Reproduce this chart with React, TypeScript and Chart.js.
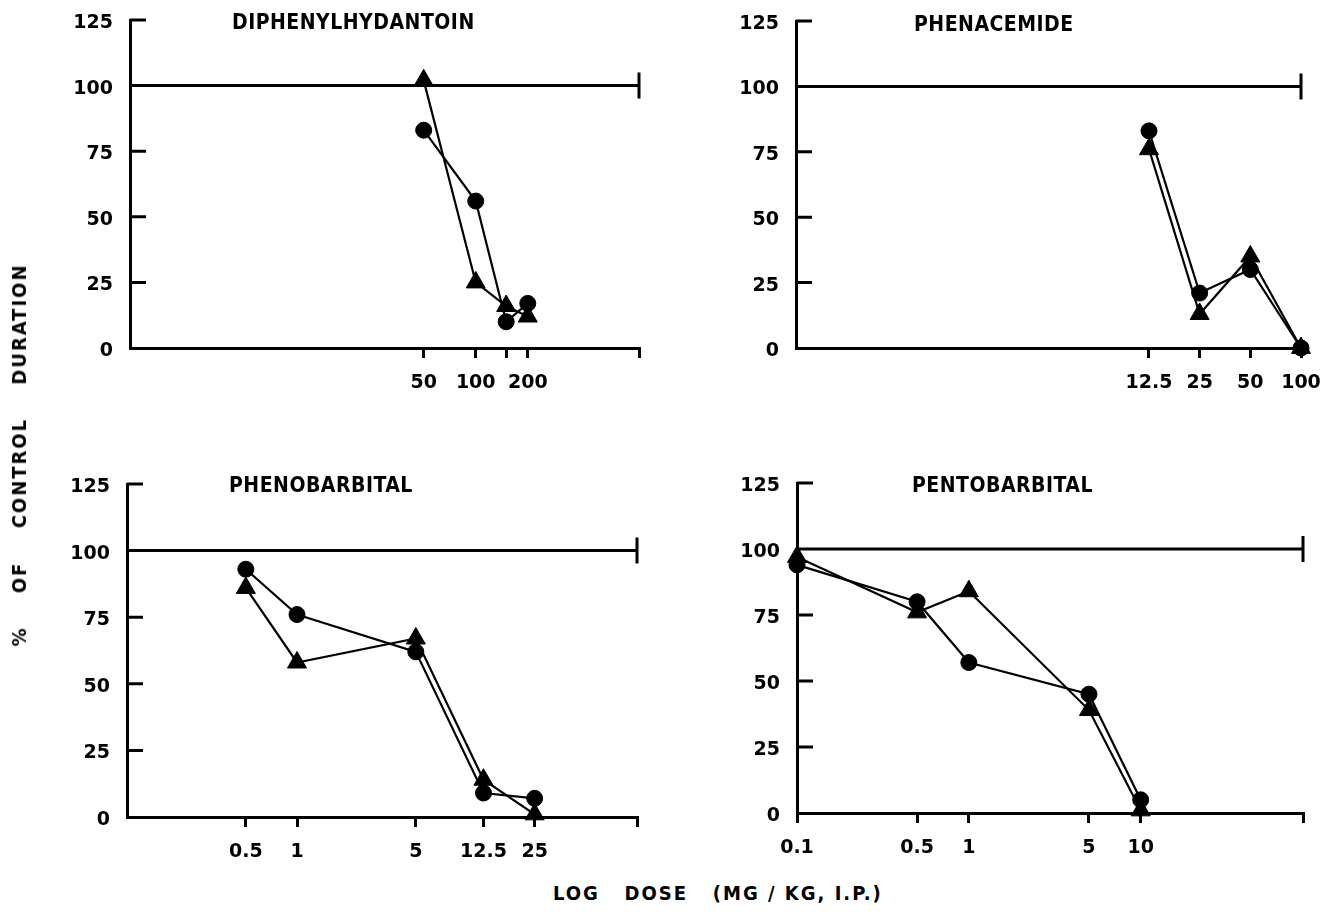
import React, { useEffect, useRef } from 'react';
import { Chart, registerables } from 'chart.js';

Chart.register(...registerables);

// ---------- data ----------
const CONTROL_LEVEL = 100;
const Y_INNER_TICKS = [25, 50, 75, 125];

const DPH_DOSES = [50, 100, 150, 200];
const DPH_TICK_LABELS = ['50', '100', '', '200'];
const DPH_CIRCLES = [83, 56, 10, 17];
const DPH_TRIANGLES = [102, 25, 16, 12];

const PHM_DOSES = [12.5, 25, 50, 100];
const PHM_TICK_LABELS = ['12.5', '25', '50', '100'];
const PHM_CIRCLES = [83, 21, 30, 0];
const PHM_TRIANGLES = [76, 13, 35, 0];

const PHB_DOSES = [0.5, 1, 5, 12.5, 25];
const PHB_TICK_LABELS = ['0.5', '1', '5', '12.5', '25'];
const PHB_CIRCLES = [93, 76, 62, 9, 7];
const PHB_TRIANGLES = [86, 58, 67, 14, 1];

const PTB_DOSES = [0.1, 0.5, 1, 5, 10];
const PTB_TICK_LABELS = ['0.1', '0.5', '1', '5', '10'];
const PTB_CIRCLES = [94, 80, 57, 45, 5];
const PTB_TRIANGLES = [97, 76, 84, 39, 1];

// ---------- layout ----------
const LEFT_W = 110;
const TOP_H = 48;
const RIGHT_W = 48;
const BOTTOM_H = 60;
const FONT = "'DejaVu Sans', sans-serif";
const FONT_COND = "'DejaVu Sans Condensed', 'DejaVu Sans', sans-serif";

type PanelDef = {
  title: string;
  doses: number[];
  tickLabels: string[];
  circles: number[];
  triangles: number[];
  xMin: number;
  xMax: number;
  axisX: number;
  topY: number;
  bottomY: number;
  rightX: number;
  titleDx: number;
  titleDy: number;
};

const PANELS: PanelDef[] = [
  {
    title: 'DIPHENYLHYDANTOIN', doses: DPH_DOSES, tickLabels: DPH_TICK_LABELS,
    circles: DPH_CIRCLES, triangles: DPH_TRIANGLES, xMin: 1, xMax: 880,
    axisX: 130, topY: 20, bottomY: 348, rightX: 639, titleDx: 102, titleDy: 4,
  },
  {
    title: 'PHENACEMIDE', doses: PHM_DOSES, tickLabels: PHM_TICK_LABELS,
    circles: PHM_CIRCLES, triangles: PHM_TRIANGLES, xMin: 0.1, xMax: 100,
    axisX: 796, topY: 21, bottomY: 348, rightX: 1301, titleDx: 118, titleDy: 5,
  },
  {
    title: 'PHENOBARBITAL', doses: PHB_DOSES, tickLabels: PHB_TICK_LABELS,
    circles: PHB_CIRCLES, triangles: PHB_TRIANGLES, xMin: 0.1, xMax: 100,
    axisX: 127, topY: 484, bottomY: 817, rightX: 637, titleDx: 102, titleDy: 3,
  },
  {
    title: 'PENTOBARBITAL', doses: PTB_DOSES, tickLabels: PTB_TICK_LABELS,
    circles: PTB_CIRCLES, triangles: PTB_TRIANGLES, xMin: 0.1, xMax: 88,
    axisX: 797, topY: 483, bottomY: 813, rightX: 1303, titleDx: 115, titleDy: 4,
  },
];

function Panel({ p }: { p: PanelDef }) {
  const ref = useRef<HTMLCanvasElement>(null);
  const W = p.rightX - p.axisX + LEFT_W + RIGHT_W;
  const H = p.bottomY - p.topY + TOP_H + BOTTOM_H;

  useEffect(() => {
    if (!ref.current) return;
    const tickValues = p.doses.includes(p.xMax) ? [...p.doses] : [...p.doses, p.xMax];

    const decor = {
      id: 'decor',
      afterDraw(chart: any) {
        const ctx = chart.ctx;
        const area = chart.chartArea;
        const ys = chart.scales.y;
        const xs = chart.scales.x;
        ctx.save();
        ctx.strokeStyle = '#000';
        ctx.lineWidth = 3;
        ctx.lineCap = 'butt';
        ctx.beginPath();
        for (const v of Y_INNER_TICKS) {
          const y = ys.getPixelForValue(v);
          ctx.moveTo(area.left, y);
          ctx.lineTo(area.left + 16, y);
        }
        const xr = xs.getPixelForValue(p.xMax);
        const y100 = ys.getPixelForValue(CONTROL_LEVEL);
        ctx.moveTo(xr, y100 - 13);
        ctx.lineTo(xr, y100 + 13);
        ctx.stroke();

        ctx.fillStyle = '#000';
        ctx.font = `bold 21px ${FONT_COND}`;
        ctx.textBaseline = 'middle';
        ctx.textAlign = 'left';
        try { (ctx as any).letterSpacing = '0.5px'; } catch (e) {}
        ctx.fillText(p.title, area.left + p.titleDx, area.top + p.titleDy);
        ctx.restore();
      },
    };

    const chart = new Chart(ref.current, {
      type: 'line',
      data: {
        datasets: [
          {
            label: 'control',
            data: [{ x: p.xMin, y: CONTROL_LEVEL }, { x: p.xMax, y: CONTROL_LEVEL }],
            borderColor: '#000',
            borderWidth: 3,
            pointRadius: 0,
            clip: false as any,
          },
          {
            label: 'circles',
            data: p.doses.map((d, i) => ({ x: d, y: p.circles[i] })),
            borderColor: '#000',
            backgroundColor: '#000',
            borderWidth: 2.2,
            pointStyle: 'circle',
            pointRadius: 8,
            pointBorderWidth: 1,
            clip: false as any,
          },
          {
            label: 'triangles',
            data: p.doses.map((d, i) => ({ x: d, y: p.triangles[i] })),
            borderColor: '#000',
            backgroundColor: '#000',
            borderWidth: 2.2,
            pointStyle: 'triangle',
            pointRadius: 11,
            pointBorderWidth: 1,
            clip: false as any,
          },
        ],
      },
      options: {
        responsive: false,
        animation: false,
        devicePixelRatio: 1,
        layout: { padding: { left: 0, top: TOP_H, right: RIGHT_W, bottom: 0 } },
        plugins: { legend: { display: false }, tooltip: { enabled: false } },
        elements: { line: { tension: 0 } },
        scales: {
          x: {
            type: 'logarithmic',
            min: p.xMin,
            max: p.xMax,
            afterBuildTicks: (scale: any) => {
              scale.ticks = tickValues.map((v) => ({ value: v }));
            },
            afterFit: (scale: any) => { scale.height = BOTTOM_H; },
            grid: {
              display: true,
              drawOnChartArea: false,
              drawTicks: true,
              tickLength: 10,
              color: '#000',
              lineWidth: 3,
            },
            border: { display: true, color: '#000', width: 3 },
            ticks: {
              autoSkip: false,
              maxRotation: 0,
              minRotation: 0,
              padding: 14,
              color: '#000',
              font: { size: 19, family: FONT, weight: 'bold' },
              callback: (_v: any, i: number) => p.tickLabels[i] ?? '',
            },
          },
          y: {
            type: 'linear',
            min: 0,
            max: 125,
            afterFit: (scale: any) => { scale.width = LEFT_W; },
            grid: { display: false, drawTicks: false },
            border: { display: true, color: '#000', width: 3 },
            ticks: {
              stepSize: 25,
              padding: 17,
              labelOffset: 3,
              color: '#000',
              font: { size: 19, family: FONT, weight: 'bold' },
            },
          },
        },
      },
      plugins: [decor],
    } as any);
    return () => chart.destroy();
  }, []);

  return (
    <canvas
      ref={ref}
      width={W}
      height={H}
      style={{
        position: 'absolute',
        left: p.axisX - LEFT_W,
        top: p.topY - TOP_H,
        width: W,
        height: H,
      }}
    />
  );
}

export default function App() {
  return (
    <div
      style={{
        position: 'absolute',
        left: 0,
        top: 0,
        width: 1332,
        height: 916,
        background: '#fff',
        overflow: 'hidden',
        fontFamily: FONT_COND,
        fontWeight: 'bold',
        color: '#000',
      }}
    >
      {PANELS.map((p) => (
        <Panel key={p.title} p={p} />
      ))}
      <div
        style={{
          position: 'absolute',
          left: 19,
          top: 455,
          transform: 'translate(-50%, -50%) rotate(-90deg)',
          whiteSpace: 'pre',
          fontSize: 20,
          letterSpacing: '2px',
          wordSpacing: '25px',
          lineHeight: '22px',
        }}
      >
        % OF CONTROL DURATION
      </div>
      <div
        style={{
          position: 'absolute',
          left: 553,
          top: 882,
          whiteSpace: 'pre',
          fontSize: 20,
          letterSpacing: '2px',
          lineHeight: '22px',
        }}
      >
        {'LOG   DOSE   (MG / KG, I.P.)'}
      </div>
    </div>
  );
}
